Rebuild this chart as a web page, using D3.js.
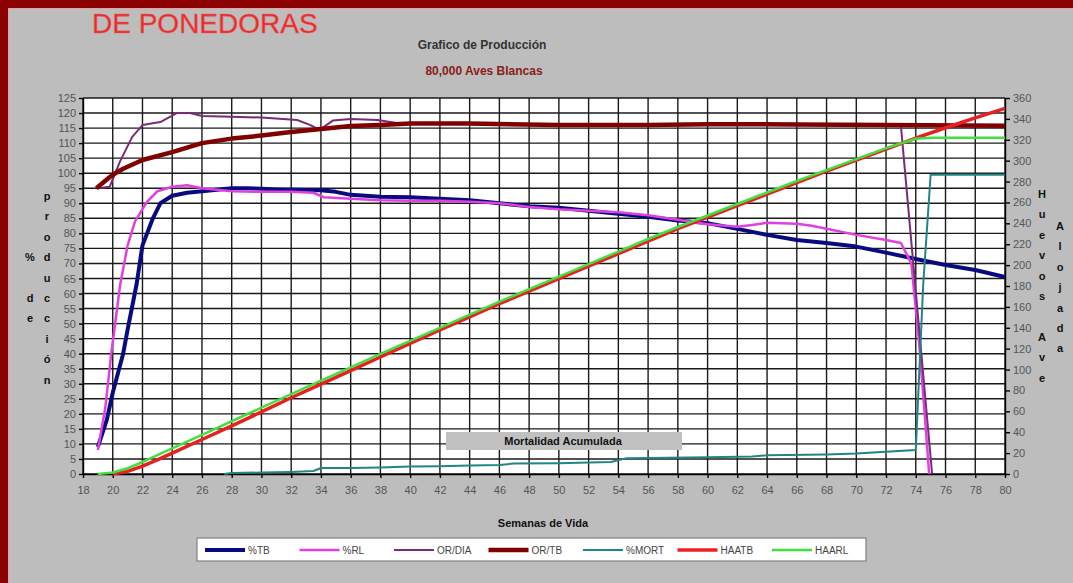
<!DOCTYPE html>
<html>
<head>
<meta charset="utf-8">
<script src="https://cdn.jsdelivr.net/npm/d3@7"></script>
<style>
  html, body { margin: 0; padding: 0; background: #8b0000; }
  svg { display: block; font-family: "Liberation Sans", Arial, sans-serif; }
</style>
</head>
<body>
<div id="chart"></div>
<script>
// Weeks of age on the x axis
var xTicks = d3.range(18, 81, 2);
var leftTicks = d3.range(0, 126, 5);
var rightTicks = d3.range(0, 361, 20);

// Series as [week, value] pairs
var tbData = [[19,9],[19.6,18],[20,27],[20.7,40],[21,48],[21.6,63],[22,76],[22.7,85],[23.2,90],[24,92.5],[25,93.5],[26,94],[27,94.5],[28,95],[29,95],[30,94.8],[31,94.6],[32,94.5],[33,94.4],[34,94.3],[35,93.8],[36,92.8],[37,92.5],[38,92.2],[40,92],[42,91.5],[44,91],[46,90],[48,89],[50,88.5],[52,87.5],[54,86.5],[56,85.5],[58,84.3],[60,83.4],[62,81.5],[64,79.5],[66,77.8],[68,76.8],[70,75.6],[72,73.6],[74,71.5],[76,69.5],[78,67.8],[80,65.5]];
var rlData = [[19,8],[19.5,22],[19.9,40],[20.5,63],[21,76],[21.5,84],[22.3,90.5],[23,94],[24,95.5],[25,96],[26,95],[28,94],[30,93.8],[32,93.8],[33.5,93.5],[34.2,92],[36,91.5],[38,91],[40,90.8],[42,90.8],[44,90.5],[46,90],[48,88.8],[50,88],[52,87.5],[54,87],[56,86],[58,84.5],[60,83],[62,82.2],[63,82.8],[64,83.5],[66,83.2],[67,82.5],[68,81.5],[70,79.5],[72,77.8],[73,76.8],[73.7,70],[74.2,45],[74.6,20],[74.9,0]];
var orDiaData = [[19,95],[19.8,95.5],[20.5,104],[21.3,112],[22,116],[23.2,117],[24.3,120],[25.2,120],[26,119],[28,118.8],[30,118.5],[32.4,117.7],[33.3,116],[33.9,114.4],[34.8,117.5],[36,118],[37.8,117.7],[39.1,116.7],[40,116.5],[42,116.5],[46,116],[50,116],[56,116],[60,116.3],[66,116],[73,115.8],[75.1,0]];
var orTbData = [[18.9,95],[19.5,97.5],[20,99.5],[20.7,101.5],[22,104.4],[24,107],[26,110],[28,111.5],[30,112.5],[32,113.7],[34,114.7],[36,115.7],[38,116],[40,116.5],[44,116.5],[50,116],[56,116],[60,116.3],[66,116.2],[72,116],[80,115.8]];
var mortData = [[27.5,0],[28,0.3],[30,0.5],[32,0.7],[33.5,1],[34,2],[36,2],[38,2.2],[40,2.5],[42,2.6],[44,2.8],[46,3],[47,3.5],[50,3.6],[52,3.8],[53.5,4],[54.5,5.2],[56,5.3],[60,5.6],[63,5.8],[64,6.2],[68,6.5],[70,6.8],[72,7.4],[74,8],[74.5,63],[75,99.5],[80,99.5]];
var haatbData = [[20,0],[21,2.5],[22,7.5],[23,13.5],[24,20],[26,33],[28,46],[30,59.5],[32,73],[34,86],[36,99],[38,112],[40,125],[42,138],[44,150.5],[46,163],[48,175],[50,187],[52,199],[54,211],[56,223],[58,235],[60,246],[62,257],[64,268],[66,279],[68,290],[70,300.5],[72,311],[74,321.5],[76,331.5],[78,341],[80,350]];
var haarlData = [[19,0],[20,1.5],[21,5.5],[22,11.5],[23,18],[24,24.5],[26,37.5],[28,50.5],[30,63.5],[32,76.5],[34,89.5],[36,102],[38,115],[40,127.5],[42,140],[44,152.5],[46,165],[48,177],[50,189],[52,201],[54,213],[56,225],[58,236.5],[60,247.5],[62,258.5],[64,269.5],[66,280.5],[68,291],[70,301.5],[72,312],[74,321],[75,322],[80,322]];

var seriesNames = ["%TB", "%RL", "OR/DIA", "OR/TB", "%MORT", "HAATB", "HAARL"];

var W = 1073, H = 583;
var plotLeft = 83, plotRight = 1005, plotTop = 98, plotBottom = 474;

var svg = d3.select("#chart").append("svg").attr("width", W).attr("height", H);

// gray sheet inside the red frame
svg.append("rect").attr("x", 0).attr("y", 0).attr("width", W).attr("height", H).attr("fill", "#8b0000");
svg.append("rect").attr("x", 8).attr("y", 8).attr("width", W - 8).attr("height", H - 8).attr("fill", "#e8a0a0");
svg.append("rect").attr("x", 9).attr("y", 9).attr("width", W - 9).attr("height", H - 9).attr("fill", "#bdbdbd");

var x = d3.scaleLinear().domain([18, 80]).range([plotLeft, plotRight]);
var yL = d3.scaleLinear().domain([0, 125]).range([plotBottom, plotTop]);
var yR = d3.scaleLinear().domain([0, 360]).range([plotBottom, plotTop]);

// titles
svg.append("text").attr("x", 92).attr("y", 33).attr("font-size", 28).attr("fill", "#e42a2a")
  .attr("stroke", "#f06060").attr("stroke-width", 0.6).text("DE PONEDORAS");
svg.append("text").attr("x", 482).attr("y", 49).attr("text-anchor", "middle").attr("font-size", 12)
  .attr("font-weight", "bold").attr("fill", "#333").text("Grafico de Producción");
svg.append("text").attr("x", 484).attr("y", 75).attr("text-anchor", "middle").attr("font-size", 12)
  .attr("font-weight", "bold").attr("fill", "#8b1c1c").text("80,000 Aves Blancas");

// plot area
svg.append("rect").attr("x", plotLeft).attr("y", plotTop)
  .attr("width", plotRight - plotLeft).attr("height", plotBottom - plotTop).attr("fill", "#fff");

var grid = svg.append("g").attr("stroke", "#1a1a1a").attr("stroke-width", 1.4);
grid.selectAll(".h").data(leftTicks).enter().append("line")
  .attr("x1", plotLeft).attr("x2", plotRight)
  .attr("y1", function(d) { return yL(d); }).attr("y2", function(d) { return yL(d); });
grid.selectAll(".v").data(xTicks).enter().append("line")
  .attr("y1", plotTop).attr("y2", plotBottom)
  .attr("x1", function(d) { return x(d); }).attr("x2", function(d) { return x(d); });

// axes
function styleAxis(g) {
  g.selectAll("path, line").attr("stroke", "#000").attr("stroke-width", 1.4);
  g.selectAll("text").attr("fill", "#555").attr("font-size", 11)
    .attr("font-family", "'Liberation Sans', Arial, sans-serif");
}
svg.append("g").attr("transform", "translate(0," + plotBottom + ")")
  .call(d3.axisBottom(x).tickValues(xTicks).tickSize(4).tickSizeOuter(0).tickPadding(8))
  .call(styleAxis);
svg.append("g").attr("transform", "translate(" + plotLeft + ",0)")
  .call(d3.axisLeft(yL).tickValues(leftTicks).tickSize(4).tickSizeOuter(0).tickPadding(3))
  .call(styleAxis);
svg.append("g").attr("transform", "translate(" + plotRight + ",0)")
  .call(d3.axisRight(yR).tickValues(rightTicks).tickSize(5).tickSizeOuter(0).tickPadding(3))
  .call(styleAxis);

// stacked axis titles
function stacked(chars, cx, y0, step) {
  svg.append("g").selectAll("text").data(chars).enter().append("text")
    .attr("x", cx).attr("y", function(d, i) { return y0 + i * step; })
    .attr("text-anchor", "middle").attr("font-size", 11).attr("font-weight", "bold")
    .attr("fill", "#111").text(function(d) { return d; });
}
stacked("% de".split(""), 30, 261, 20.4);
stacked("producción".split(""), 47, 200, 20.4);
stacked("Huevos Ave".split(""), 1042, 198, 20.4);
stacked("Alojada".split(""), 1060, 230, 20.4);

svg.append("text").attr("x", 543).attr("y", 527).attr("text-anchor", "middle").attr("font-size", 11)
  .attr("font-weight", "bold").attr("fill", "#111").text("Semanas de Vida");

// series
var lineL = d3.line().x(function(d) { return x(d[0]); }).y(function(d) { return yL(d[1]); });
var lineR = d3.line().x(function(d) { return x(d[0]); }).y(function(d) { return yR(d[1]); });

var series = [
  { data: tbData, line: lineL, color: "#0a0a80", width: 4 },
  { data: rlData, line: lineL, color: "#e040e0", width: 2.5 },
  { data: orDiaData, line: lineL, color: "#7a2a7a", width: 2 },
  { data: orTbData, line: lineL, color: "#800000", width: 4.5 },
  { data: mortData, line: lineL, color: "#208585", width: 2 },
  { data: haatbData, line: lineR, color: "#e82020", width: 3.5 },
  { data: haarlData, line: lineR, color: "#40e040", width: 2.5 }
];

series.forEach(function(s) {
  svg.append("path").attr("d", s.line(s.data)).attr("fill", "none")
    .attr("stroke", s.color).attr("stroke-width", s.width).attr("stroke-linejoin", "round");
});

// label box inside the plot
svg.append("rect").attr("x", 446).attr("y", 432).attr("width", 236).attr("height", 18).attr("fill", "#c0c0c0");
svg.append("text").attr("x", 563).attr("y", 445).attr("text-anchor", "middle").attr("font-size", 11)
  .attr("font-weight", "bold").attr("fill", "#111").text("Mortalidad Acumulada");

// legend
var legend = svg.append("g");
legend.append("rect").attr("x", 197).attr("y", 538).attr("width", 669).attr("height", 23)
  .attr("fill", "#fff").attr("stroke", "#808080").attr("stroke-width", 1.2);
var items = legend.selectAll(".item").data(series).enter().append("g")
  .attr("transform", function(d, i) { return "translate(" + (205 + i * 94.5) + ",550)"; });
items.append("line").attr("x1", 0).attr("x2", 40).attr("y1", 0).attr("y2", 0)
  .attr("stroke", function(d) { return d.color; }).attr("stroke-width", function(d) { return d.width; });
items.append("text").attr("x", 43).attr("y", 4).attr("font-size", 10).attr("fill", "#444")
  .text(function(d, i) { return seriesNames[i]; });
</script>
</body>
</html>
